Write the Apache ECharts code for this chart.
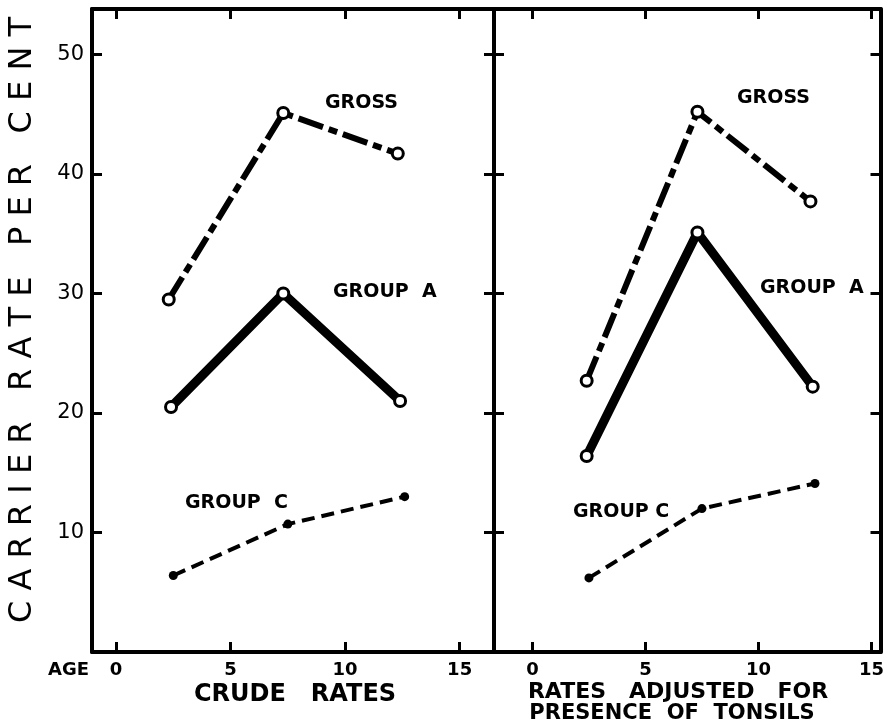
<!DOCTYPE html>
<html>
<head>
<meta charset="utf-8">
<script src="https://cdn.jsdelivr.net/npm/echarts@6/dist/echarts.min.js"></script>
<style>
  html, body { margin: 0; padding: 0; background: #fff; }
  #chart { width: 887px; height: 728px; }
</style>
</head>
<body>
<div id="chart"></div>
<script>
// ---- data ----
var xTicks = [0, 5, 10, 15];
var yTicks = [10, 20, 30, 40, 50];

// Left panel: crude rates (age midpoints as drawn)
var crudeGrossX  = [2.3, 7.3, 12.3];
var crudeGrossY  = [29.5, 45.1, 41.7];
var crudeAX      = [2.4, 7.3, 12.4];
var crudeAY      = [20.5, 30.0, 21.0];
var crudeCX      = [2.5, 7.5, 12.6];
var crudeCY      = [6.4, 10.7, 13.0];

// Right panel: rates adjusted for presence of tonsils
var adjGrossX = [2.4, 7.3, 12.3];
var adjGrossY = [22.7, 45.2, 37.7];
var adjAX     = [2.4, 7.3, 12.4];
var adjAY     = [16.4, 35.1, 22.2];
var adjCX     = [2.5, 7.5, 12.5];
var adjCY     = [6.2, 12.0, 14.1];

function pairs(xs, ys) { return xs.map(function (x, i) { return [x, ys[i]]; }); }

var FONT = '"DejaVu Sans", sans-serif';
var BLACK = '#000';

function xAxisDef(grid, pos, min, max, showLabels) {
  return {
    type: 'value', gridIndex: grid, position: pos, min: min, max: max,
    splitLine: { show: false },
    axisLine: { show: true, onZero: false, lineStyle: { color: BLACK, width: 4 } },
    axisTick: { show: true, inside: true, length: 10, customValues: xTicks, lineStyle: { color: BLACK, width: 3 } },
    axisLabel: { show: showLabels, customValues: xTicks, margin: 9, color: BLACK, fontFamily: FONT, fontSize: 18, fontWeight: 'bold' }
  };
}
function yAxisDef(grid, pos, showLabels) {
  return {
    type: 'value', gridIndex: grid, position: pos, min: 0, max: 53.8,
    splitLine: { show: false },
    axisLine: { show: true, onZero: false, lineStyle: { color: BLACK, width: 4 } },
    axisTick: { show: true, inside: true, length: 10, customValues: yTicks, lineStyle: { color: BLACK, width: 3 } },
    axisLabel: { show: showLabels, customValues: yTicks, margin: 8, color: BLACK, fontFamily: FONT, fontSize: 21 }
  };
}

function grossSeries(xi, yi, data) {
  return {
    type: 'line', xAxisIndex: xi, yAxisIndex: yi, data: data, z: 3,
    symbol: 'circle', symbolSize: 11,
    itemStyle: { color: '#fff', borderColor: BLACK, borderWidth: 3 },
    lineStyle: { color: BLACK, width: 6, type: [26, 6, 9, 6] },
    silent: true, animation: false
  };
}
function groupASeries(xi, yi, data) {
  return {
    type: 'line', xAxisIndex: xi, yAxisIndex: yi, data: data, z: 3,
    symbol: 'circle', symbolSize: 11,
    itemStyle: { color: '#fff', borderColor: BLACK, borderWidth: 3 },
    lineStyle: { color: BLACK, width: 9, join: 'round' },
    silent: true, animation: false
  };
}
function groupCSeries(xi, yi, data) {
  return {
    type: 'line', xAxisIndex: xi, yAxisIndex: yi, data: data, z: 3,
    symbol: 'circle', symbolSize: 9,
    itemStyle: { color: BLACK },
    lineStyle: { color: BLACK, width: 4, type: [13, 7] },
    silent: true, animation: false
  };
}

function txt(x, y, s, size, weight, align) {
  return { type: 'text', x: x, y: y, silent: true,
    style: { text: s, fill: BLACK, font: (weight || 'bold') + ' ' + size + 'px ' + FONT,
             textAlign: align || 'left', textVerticalAlign: 'middle' } };
}

var chart = echarts.init(document.getElementById('chart'), null, { renderer: 'canvas' });
chart.setOption({
  backgroundColor: '#fff',
  animation: false,
  grid: [
    { left: 92, top: 9, width: 402, height: 643 },
    { left: 494, top: 9, width: 390, height: 643 }
  ],
  xAxis: [
    xAxisDef(0, 'bottom', -1.05, 16.5, true),
    xAxisDef(0, 'top', -1.05, 16.5, false),
    xAxisDef(1, 'bottom', -1.7, 15.4, true),
    xAxisDef(1, 'top', -1.7, 15.4, false)
  ],
  yAxis: [
    yAxisDef(0, 'left', true),
    yAxisDef(0, 'right', false),
    yAxisDef(1, 'left', false),
    yAxisDef(1, 'right', false)
  ],
  series: [
    grossSeries(0, 0, pairs(crudeGrossX, crudeGrossY)),
    groupASeries(0, 0, pairs(crudeAX, crudeAY)),
    groupCSeries(0, 0, pairs(crudeCX, crudeCY)),
    grossSeries(2, 2, pairs(adjGrossX, adjGrossY)),
    groupASeries(2, 2, pairs(adjAX, adjAY)),
    groupCSeries(2, 2, pairs(adjCX, adjCY))
  ],
  graphic: [
    { type: 'text', x: 23, y: 320, rotation: Math.PI / 2, silent: true,
      style: { text: 'C A R R I E R   R A T E   P E R   C E N T', fill: BLACK,
               font: 'normal 32px ' + FONT, textAlign: 'center', textVerticalAlign: 'middle' } },
    txt(48, 670, 'AGE', 18, 'bold', 'left'),
    txt(295, 695, 'CRUDE   RATES', 24, 'bold', 'center'),
    txt(678, 692, 'RATES   ADJUSTED   FOR', 22, 'bold', 'center'),
    txt(672, 714, 'PRESENCE  OF  TONSILS', 21, 'bold', 'center'),
    txt(325, 103, 'GROSS', 19, 'bold', 'left'),
    txt(333, 292, 'GROUP  A', 19, 'bold', 'left'),
    txt(185, 503, 'GROUP  C', 19, 'bold', 'left'),
    txt(737, 98, 'GROSS', 19, 'bold', 'left'),
    txt(760, 288, 'GROUP  A', 19, 'bold', 'left'),
    txt(573, 512, 'GROUP C', 19, 'bold', 'left')
  ]
});
</script>
</body>
</html>
